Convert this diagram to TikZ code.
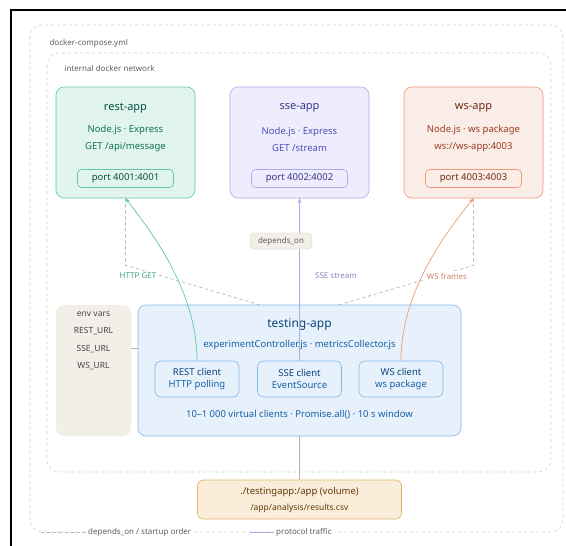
\documentclass[tikz,border=0pt]{standalone}
\usepackage{fontspec}
\setmainfont{Noto Sans}
\usepackage{tikz}
\usetikzlibrary{calc, positioning, arrows.meta}
\definecolor{zonegrey}{HTML}{D3D1C7}
\definecolor{depgrey}{HTML}{B4B2A9}
\definecolor{labgrey}{HTML}{5F5E5A}
\definecolor{restfill}{HTML}{E1F5EE}
\definecolor{restdraw}{HTML}{5DCAA5}
\definecolor{restdark}{HTML}{085041}
\definecolor{resttext}{HTML}{0F6E56}
\definecolor{ssefill}{HTML}{EEEDFE}
\definecolor{ssedraw}{HTML}{AFA9EC}
\definecolor{ssedark}{HTML}{3C3489}
\definecolor{ssetext}{HTML}{534AB7}
\definecolor{wsfill}{HTML}{FAECE7}
\definecolor{wsdraw}{HTML}{F0997B}
\definecolor{wsdark}{HTML}{712B13}
\definecolor{wstext}{HTML}{993C1D}
\definecolor{testfill}{HTML}{E6F1FB}
\definecolor{testdraw}{HTML}{85B7EB}
\definecolor{testdark}{HTML}{0C447C}
\definecolor{testtext}{HTML}{185FA5}
\definecolor{envfill}{HTML}{F1EFE8}
\definecolor{envtext}{HTML}{444441}
\definecolor{volfill}{HTML}{FAEEDA}
\definecolor{voldraw}{HTML}{DDB06A}
\definecolor{voltext}{HTML}{633806}

\begin{document}
\begin{tikzpicture}[
  x=1pt, y=-1pt,
  font=\fontsize{9.5}{11}\selectfont,
  zone/.style={draw=zonegrey, dashed, rounded corners=12pt, line width=0.6pt},
  app/.style={rounded corners=8pt, minimum width=139pt, minimum height=111pt, inner sep=0pt, line width=0.6pt},
  apptitle/.style={font=\fontsize{11}{13}\selectfont\bfseries},
  appinfo/.style={align=center, font=\fontsize{9.5}{17}\selectfont},
  port/.style={rounded corners=4pt, minimum width=96pt, minimum height=18pt, inner sep=0pt, line width=0.6pt},
  client/.style={draw=testdraw, fill=testfill, rounded corners=6pt, minimum width=84pt, minimum height=36pt, inner sep=0pt, align=center, line width=0.6pt, font=\fontsize{9.5}{12}\selectfont},
  dep/.style={draw=depgrey, dashed, line width=0.7pt},
  proto/.style={line width=0.7pt},
  flowlbl/.style={font=\fontsize{8}{9}\selectfont, fill=white, inner sep=1.5pt},
  tip/.style={-{Stealth[length=5pt, width=4pt]}}
]
\useasboundingbox (0,0) rectangle (566,546);
\fill[white] (0,0) rectangle (566,546);
\draw[line width=2.5pt] (11,546) -- (11,10) -- (566,10);

% compose file and network
\draw[zone] (30,25) rectangle (563,532);
\draw[zone] (47,53) rectangle (551,472);
\node[anchor=west, text=labgrey, font=\fontsize{8}{10}\selectfont] (compose) at (46,43) {docker-compose.yml};
\node[anchor=west, text=labgrey, font=\fontsize{8}{10}\selectfont] (network) at (61,68) {internal docker network};

% server containers
\node[app, draw=restdraw, fill=restfill] (rest) at (125.5,142.5) {};
\node[apptitle, text=restdark] (resttitle) at (125.5,108) {rest-app};
\node[appinfo, text=resttext] (restinfo) at (125.5,139) {Node.js · Express\\GET /api/message};
\node[port, draw=restdraw, fill=restfill, text=restdark] (restport) at (125.5,178.5) {port 4001:4001};

\node[app, draw=ssedraw, fill=ssefill] (sse) at (299.5,142.5) {};
\node[apptitle, text=ssedark] (ssetitle) at (299.5,108) {sse-app};
\node[appinfo, text=ssetext] (sseinfo) at (299.5,139) {Node.js · Express\\GET /stream};
\node[port, draw=ssedraw, fill=ssefill, text=ssedark] (sseport) at (299.5,178.5) {port 4002:4002};

\node[app, draw=wsdraw, fill=wsfill] (ws) at (473.5,142.5) {};
\node[apptitle, text=wsdark] (wstitle) at (473.5,108) {ws-app};
\node[appinfo, text=wstext] (wsinfo) at (473.5,139) {Node.js · ws package\\ws://ws-app:4003};
\node[port, draw=wsdraw, fill=wsfill, text=wsdark] (wsport) at (473.5,178.5) {port 4003:4003};

% test runner
\node[fill=envfill, rounded corners=8pt, minimum width=75pt, minimum height=131pt, inner sep=0pt] (env) at (93.5,370.5) {};
\node[text=envtext, align=center, anchor=north, font=\fontsize{8.5}{17.5}\selectfont] (envlist) at (93.5,308) {env vars\\REST\_URL\\SSE\_URL\\WS\_URL};

\node[draw=testdraw, fill=testfill, rounded corners=8pt, minimum width=323pt, minimum height=131pt, inner sep=0pt, line width=0.6pt] (testing) at (299.5,370.5) {};
\node[text=testdark, font=\fontsize{12}{14}\selectfont] (testtitle) at (299.5,325) {testing-app};
\node[text=testtext] (testfiles) at (299.5,345) {experimentController.js · metricsCollector.js};
\node[client] (restclient) at (197,379) {\textcolor{testdark}{REST client}\\\textcolor{testtext}{HTTP polling}};
\node[client] (sseclient) at (299.5,379) {\textcolor{testdark}{SSE client}\\\textcolor{testtext}{EventSource}};
\node[client] (wsclient) at (401,379) {\textcolor{testdark}{WS client}\\\textcolor{testtext}{ws package}};
\node[text=testtext] (testfoot) at (299.5,415) {10--1~000 virtual clients · Promise.all() · 10 s window};

\node[draw=voldraw, fill=volfill, rounded corners=6pt, minimum width=204pt, minimum height=39pt, inner sep=0pt, line width=0.6pt, align=center, text=voltext, font=\fontsize{9.5}{16}\selectfont] (volume) at (299.5,499.5) {./testingapp:/app (volume)\\{\fontsize{8.5}{10}\selectfont /app/analysis/results.csv}};

% startup order
\draw[dep] (rest.south) -- ++(0,67) -- ($(testing.north)+(-40,0)$);
\draw[dep] (ws.south) -- ++(0,67) -- ($(testing.north)+(40,0)$);
\draw[dep] (sse.south) -- (testing.north);

% protocol traffic
\draw[proto, draw=ssedraw, tip] (sseclient.north) -- (sse.south);
\draw[proto, draw=restdraw, tip] (restclient.north) .. controls (197,290) and (150,230) .. (rest.south);
\draw[proto, draw=wsdraw, tip] (wsclient.north) .. controls (401,290) and (448,230) .. (ws.south);

\node[fill=envfill, draw=zonegrey, rounded corners=4pt, minimum width=62pt, minimum height=16pt, inner sep=0pt, text=labgrey, font=\fontsize{8}{10}\selectfont] (depends) at (281,241) {depends\_on};
\node[flowlbl, text=restdraw!80!black] (httplbl) at (138,276) {HTTP GET};
\node[flowlbl, text=ssedraw!80!black] (sselbl) at (336,276) {SSE stream};
\node[flowlbl, text=wsdraw!85!black] (wslbl) at (447,276) {WS frames};

\draw[draw=depgrey, line width=0.6pt] ($(env.east)+(0,-22)$) -- ($(testing.west)+(0,-22)$);
\draw[draw=depgrey, line width=0.6pt] (testing.south) -- (volume.north);

% legend
\node[anchor=west, fill=white, inner sep=2pt, text=labgrey, font=\fontsize{8}{10}\selectfont] (deplegend) at (86,532) {depends\_on / startup order};
\draw[dep] (deplegend.west) -- ++(-48,0);
\node[anchor=west, fill=white, inner sep=2pt, text=labgrey, font=\fontsize{8}{10}\selectfont] (protolegend) at (274,532) {protocol traffic};
\draw[proto, draw=ssedraw] (protolegend.west) -- ++(-24,0);
\end{tikzpicture}
\end{document}
